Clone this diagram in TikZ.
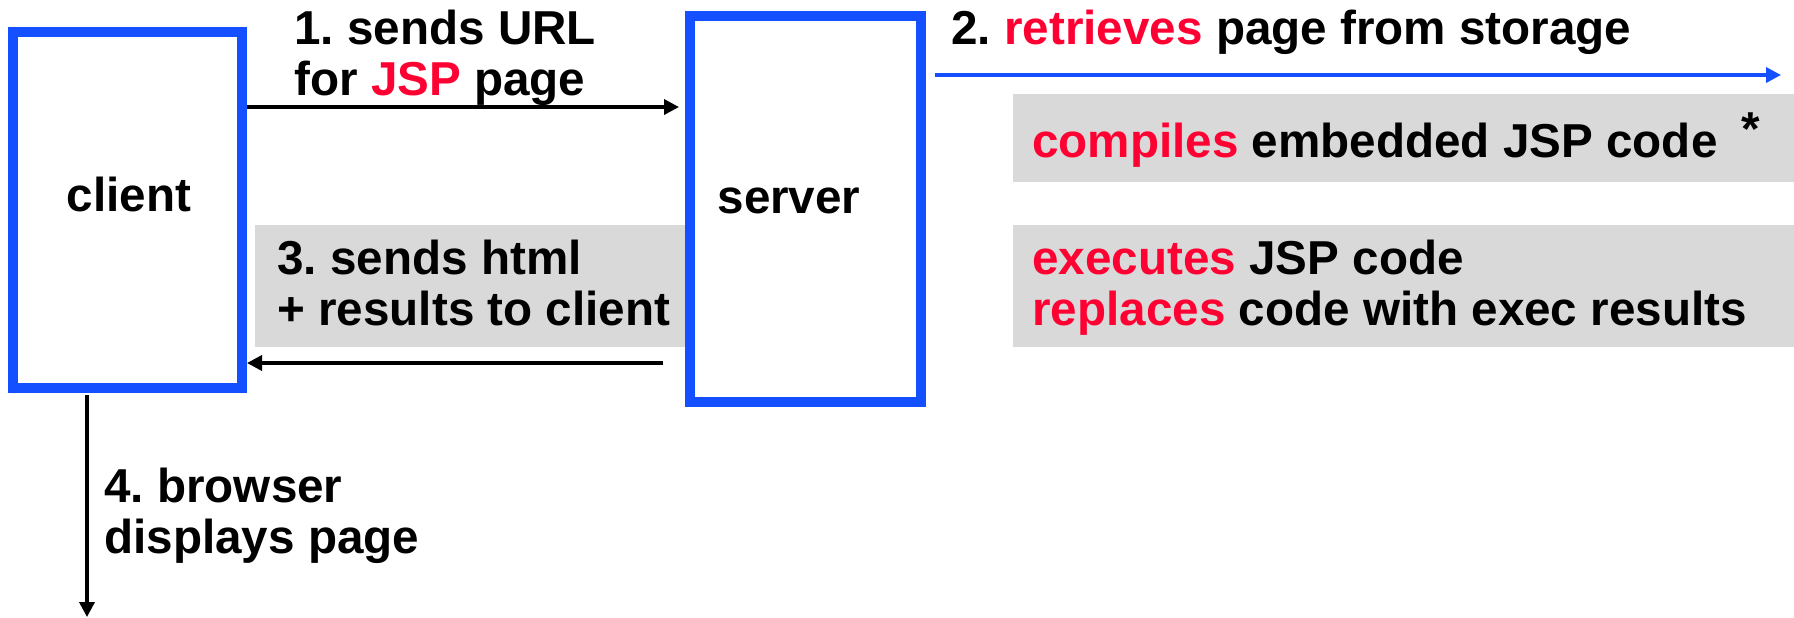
\documentclass[tikz,border=0pt]{standalone}
\usepackage{fontspec}
\setmainfont{Liberation Sans}
\usetikzlibrary{arrows.meta}
\definecolor{boxblue}{RGB}{20,80,255}
\definecolor{hired}{RGB}{255,0,51}
\definecolor{panelgray}{RGB}{217,217,217}
\newcommand{\hl}[1]{\textcolor{hired}{#1}}
\frenchspacing
\begin{document}
\begin{tikzpicture}[x=0.5pt,y=-0.5pt,
  every node/.style={font=\fontsize{23.8}{25.5}\selectfont\bfseries\frenchspacing},
  hostbox/.style={draw=boxblue, line width=5pt, inner sep=0pt},
  panel/.style={fill=panelgray, inner sep=0pt, anchor=north west},
  txt/.style={anchor=base west, inner sep=0pt, align=left},
  msg/.style={line width=1.75pt, -{Triangle[length=7.5pt,width=7.5pt]}},
]
\useasboundingbox (0,0) rectangle (1794,617);
% grey panels (behind)
\node[panel, minimum width=218pt, minimum height=61pt] (p3) at (255,225) {};
\node[panel, minimum width=390.5pt, minimum height=44pt] (pc) at (1013,94) {};
\node[panel, minimum width=390.5pt, minimum height=61pt] (pe) at (1013,225) {};
% hosts
\node[hostbox, minimum width=114.5pt, minimum height=178pt] (client) at (127.5,210) {};
\node[hostbox, minimum width=115.5pt, minimum height=193pt] (server) at (805.5,209) {};
\node[anchor=base, inner sep=0pt] (clientlbl) at (129,211) {client};
\node[anchor=base, inner sep=0pt] (serverlbl) at (789,213) {server};
% texts (base anchor = baseline of the last line)
\node[txt] (t1) at (294,95) {1. sends URL\\for \hl{JSP} page};
\node[txt] (t2) at (951,44) {2. \hl{retrieves} page from storage};
\node[txt] (t3) at (277,325) {3. sends html\\+ results to client};
\node[txt] (tc) at (1032,157) {\hl{compiles} embedded JSP code\hspace{12pt}\raisebox{6pt}{*}};
\node[txt] (te) at (1032,325) {\hl{executes} JSP code\\\hl{replaces} code with exec results};
\node[txt] (t4) at (104,553) {4. browser\\displays page};
% connectors
\coordinate (storeEnd) at (1781,75);
\coordinate (viewEnd) at (87,617);
\draw[msg, shorten >=3pt] (client.east |- 0,107) -- (server.west |- 0,107);
\draw[msg, shorten <=11pt] (server.west |- 0,363) -- (client.east |- 0,363);
\draw[msg, draw=boxblue, shorten <=4.5pt] (server.east |- 0,75) -- (storeEnd);
\draw[msg, shorten <=1pt] (client.south -| 87,0) -- (viewEnd);
\end{tikzpicture}
\end{document}
